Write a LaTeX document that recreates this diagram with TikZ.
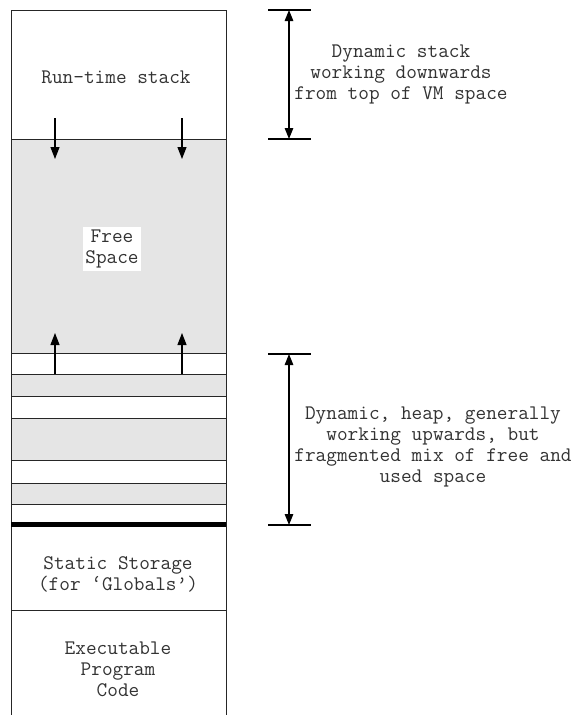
\documentclass[tikz,border=0pt]{standalone}
\usepackage{fontspec}
\usetikzlibrary{arrows.meta}
\definecolor{freegray}{HTML}{E5E5E5}
\tikzset{
  lbl/.style={font=\ttfamily\fontsize{20.7}{21}\selectfont, align=center, inner sep=0pt, text=black!80},
  wall/.style={line width=1pt, draw=black!85},
  arr/.style={line width=1.2pt, -{Triangle[length=12pt,width=9pt]}},
  darr/.style={line width=1.2pt, {Triangle[length=11pt,width=8.5pt]}-{Triangle[length=11pt,width=8.5pt]}},
  tick/.style={line width=1.2pt},
  freeblk/.style={fill=freegray}
}
\begin{document}
\begin{tikzpicture}[x=1pt,y=-1pt]
\useasboundingbox[fill=white] (0,0) rectangle (579,715);
% gray blocks
\fill[freeblk] (11,139) rectangle (226,353);
\fill[freeblk] (11,374) rectangle (226,396);
\fill[freeblk] (11,418) rectangle (226,460);
\fill[freeblk] (11,483) rectangle (226,504);
% walls
\draw[wall] (11,715) -- (11,10) -- (226,10) -- (226,715);
\foreach \yy in {139,353,374,396,418,460,483,504,610}
  \draw[wall] (11,\yy) -- (226,\yy);
\draw[line width=5pt] (11,524.5) -- (226,524.5);
% labels
\node[lbl] (stack) at (116,77) {Run-time stack};
\node[lbl, fill=white, inner sep=2.5pt] (free) at (112,249) {Free\\Space};
\node[lbl] (static) at (118,574.5) {Static Storage\\(for ‘Globals’)};
\node[lbl] (code) at (118,669) {Executable\\Program\\Code};
\node[lbl] (dyn) at (401,74) {Dynamic stack\\working downwards\\from top of VM space};
\node[lbl] (heap) at (433,446.5) {Dynamic, heap, generally\\working upwards, but\\fragmented mix of free and\\used space};
% growth arrows
\coordinate (sa1) at (55,118); \coordinate (sb1) at (55,159);
\coordinate (sa2) at (182,118); \coordinate (sb2) at (182,159);
\coordinate (ha1) at (55,374); \coordinate (hb1) at (55,333);
\coordinate (ha2) at (182,374); \coordinate (hb2) at (182,333);
\draw[arr] (sa1) -- (sb1);
\draw[arr] (sa2) -- (sb2);
\draw[arr] (ha1) -- (hb1);
\draw[arr] (ha2) -- (hb2);
% brackets
\coordinate (t1) at (289,10); \coordinate (t2) at (289,139);
\coordinate (b1) at (289,354); \coordinate (b2) at (289,525);
\draw[tick] (268,10) -- (311,10);
\draw[tick] (268,139) -- (311,139);
\draw[darr] (t1) -- (t2);
\draw[tick] (268,354) -- (311,354);
\draw[tick] (268,525) -- (311,525);
\draw[darr] (b1) -- (b2);
\end{tikzpicture}
\end{document}
